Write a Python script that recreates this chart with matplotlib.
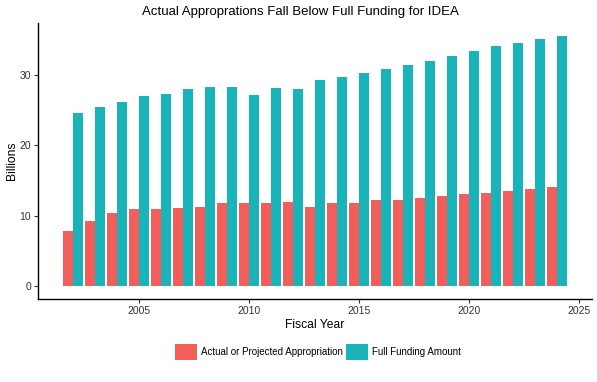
import matplotlib
matplotlib.use("Agg")
import matplotlib.pyplot as plt
import numpy as np
from matplotlib.patches import Patch

plt.rcParams['font.family'] = ['Liberation Sans', 'DejaVu Sans']

years = list(range(2002, 2025))
appropriation = [7.9, 9.3, 10.4, 11.0, 11.0, 11.1, 11.3, 11.8, 11.8, 11.8, 12.0,
                 11.3, 11.8, 11.8, 12.3, 12.3, 12.5, 12.8, 13.1, 13.3, 13.5, 13.8, 14.1]
full_funding = [24.5, 25.4, 26.1, 27.0, 27.3, 28.0, 28.3, 28.3, 27.1, 28.1, 28.0,
                29.2, 29.7, 30.2, 30.8, 31.4, 31.9, 32.6, 33.3, 34.1, 34.5, 35.0, 35.5]
series_names = ["Actual or Projected Appropriation", "Full Funding Amount"]
colors = ["#F35E5A", "#19B4B9"]

W, H = 597, 382
fig = plt.figure(figsize=(W / 100, H / 100), dpi=100)
ax = fig.add_axes([38 / W, 1 - 299 / H, (592 - 38) / W, (299 - 23) / H])

x = np.array(years, dtype=float)
bw = 0.45
ax.bar(x - bw / 2, appropriation, width=bw, color=colors[0], linewidth=0)
ax.bar(x + bw / 2, full_funding, width=bw, color=colors[1], linewidth=0)

ax.set_xlim(2000.4, 2025.6)
ax.set_ylim(-1.775, 37.3)
ax.set_xticks([2005, 2010, 2015, 2020, 2025])
ax.set_yticks([0, 10, 20, 30])
for s in ['top', 'right']:
    ax.spines[s].set_visible(False)
for s in ['left', 'bottom']:
    ax.spines[s].set_linewidth(1.0)
    ax.spines[s].set_color('black')
ax.tick_params(axis='both', length=3, width=0.8, color='#333333', labelsize=7.5,
               labelcolor='#333333', pad=2)
ax.set_xlabel("Fiscal Year", fontsize=8.7, labelpad=2)
ax.set_ylabel("Billions", fontsize=8.7, labelpad=1)
fig.text(300 / W, 1 - 12.5 / H, "Actual Approprations Fall Below Full Funding for IDEA",
         fontsize=9.5, ha='center', va='center')

handles = [Patch(facecolor=c, edgecolor='none') for c in colors]
fig.legend(handles, series_names, loc='center', bbox_to_anchor=(318 / W, 1 - 352 / H),
           ncol=2, frameon=False, fontsize=7, handlelength=2.2, handleheight=2.2,
           handletextpad=0.4, columnspacing=0.4, borderaxespad=0)

fig.savefig("out.png", dpi=100)
